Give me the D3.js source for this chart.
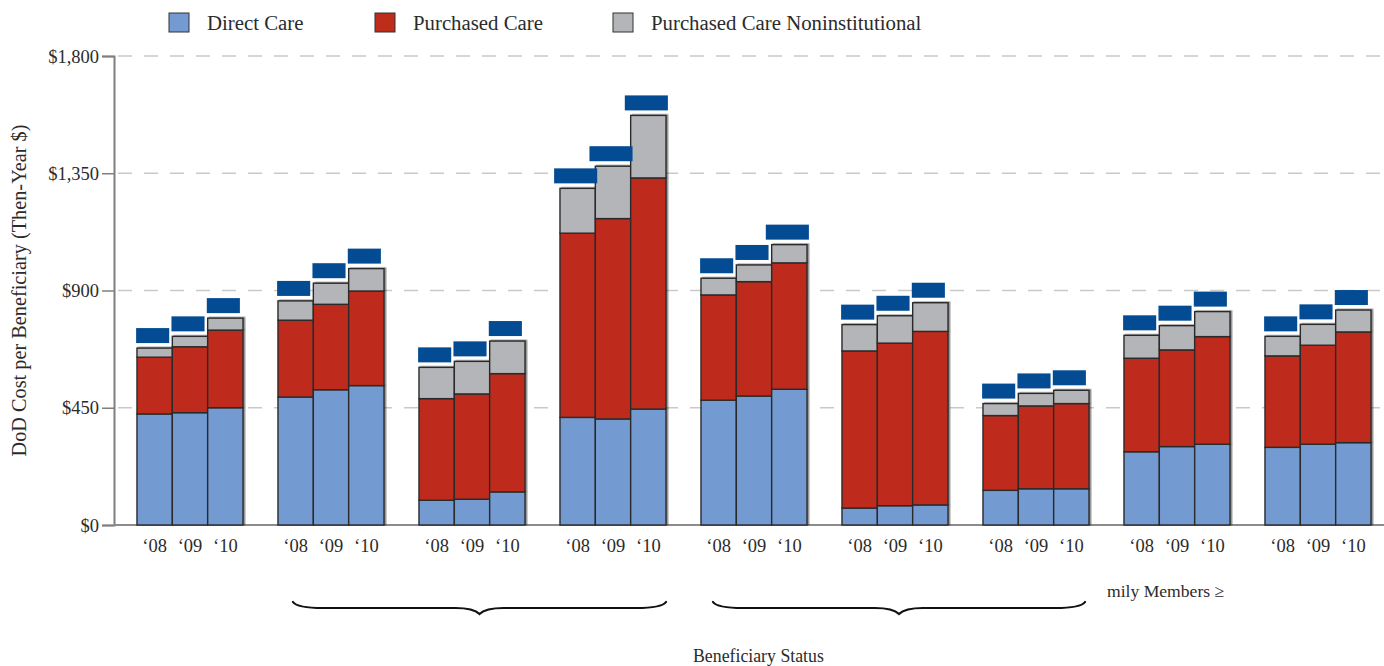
<!DOCTYPE html>
<html>
<head>
<meta charset="utf-8">
<script src="https://cdn.jsdelivr.net/npm/d3@7"></script>
<style>
  body { margin: 0; background: #fff; }
  svg text { font-family: "Liberation Serif", "DejaVu Serif", serif; fill: #2b2b2b; }
</style>
</head>
<body>
<div id="chart"></div>
<script>
var W = 1384, H = 666,
    margin = { top: 56, left: 114, bottom: 141 },
    plotRight = 1394,
    baseY = H - margin.bottom;

// beneficiary groups (names not shown in the picture) and fiscal years
var groups = ["g1", "g2", "g3", "g4", "g5", "g6", "g7", "g8", "g9"];
var years = ["‘08", "‘09", "‘10"];
var yTicks = [0, 450, 900, 1350, 1800];

// cost per beneficiary, group by group, '08 '09 '10
var directCare =    [426, 431, 450,  491, 519, 535,   95,  99, 127,  413, 407, 445,  479, 495, 521,   65,  74,  77,  133, 139, 139,  281, 301, 310,  298, 310, 316];
var purchasedCare = [218, 253, 298,  295, 328, 363,  390, 404, 454,  707, 769, 887,  404, 439, 485,  603, 624, 666,  287, 318, 327,  359, 371, 413,  351, 380, 425];
var noninstCare =   [ 35,  40,  46,   74,  81,  86,  120, 125, 125,  172, 201, 240,   64,  64,  70,  101, 105, 110,   46,  48,  51,   88,  93,  96,   75,  80,  84];

var seriesNames = ["Direct Care", "Purchased Care", "Purchased Care Noninstitutional"];
var colors = ["#739bd1", "#be2c1a", "#b4b5b8"];
var labelBlue = "#034b93";

var rows = [];
groups.forEach(function (g, gi) {
    years.forEach(function (yr, yi) {
        var i = gi * 3 + yi;
        rows.push({ group: g, year: yr, d: directCare[i], p: purchasedCare[i], n: noninstCare[i] });
    });
});

var svg = d3.select("#chart").append("svg")
    .attr("width", W)
    .attr("height", H);

var defs = svg.append("defs");
var f = defs.append("filter").attr("id", "shade")
    .attr("x", "-10%").attr("y", "-10%").attr("width", "130%").attr("height", "120%");
f.append("feDropShadow")
    .attr("dx", 1.6).attr("dy", -0.6).attr("stdDeviation", 0.7)
    .attr("flood-color", "#000").attr("flood-opacity", 0.45);

var x0 = d3.scaleBand()
    .domain(groups)
    .range([margin.left, plotRight])
    .paddingInner(0.248)
    .paddingOuter(0.163);

var x1 = d3.scaleBand()
    .domain(years)
    .range([0, x0.bandwidth()]);

var y = d3.scaleLinear()
    .domain([0, 1800])
    .range([baseY, margin.top]);

// grid
svg.append("g").selectAll("line")
    .data(yTicks.filter(function (d) { return d > 0; }))
    .enter().append("line")
    .attr("x1", margin.left).attr("x2", W)
    .attr("y1", function (d) { return y(d); })
    .attr("y2", function (d) { return y(d); })
    .attr("stroke", "#c9c9c9")
    .attr("stroke-width", 1.4)
    .attr("stroke-dasharray", "14,12")
    .attr("stroke-dashoffset", -4);

// y axis
var yAxis = svg.append("g")
    .attr("transform", "translate(" + margin.left + ",0)")
    .call(d3.axisLeft(y).tickValues(yTicks).tickSize(12).tickPadding(3)
        .tickFormat(function (d) { return "$" + d3.format(",")(d); }));
yAxis.select(".domain").attr("stroke", "#7f7f7f").attr("stroke-width", 2);
yAxis.selectAll(".tick line").attr("stroke", "#7f7f7f").attr("stroke-width", 1.5);
yAxis.selectAll(".tick text").style("font-size", "18.5px").attr("dy", "0.33em");

svg.append("line")
    .attr("x1", margin.left).attr("x2", W)
    .attr("y1", baseY).attr("y2", baseY)
    .attr("stroke", "#8c8c8c").attr("stroke-width", 2);

svg.append("text")
    .attr("transform", "translate(26," + (margin.top + baseY) / 2 + ") rotate(-90)")
    .attr("text-anchor", "middle")
    .style("font-size", "20.3px")
    .text("DoD Cost per Beneficiary (Then-Year $)");

// bars
var bars = svg.append("g").selectAll(".bar")
    .data(rows)
    .enter().append("g")
    .attr("class", "bar")
    .attr("filter", "url(#shade)")
    .attr("transform", function (r) { return "translate(" + (x0(r.group) + x1(r.year)) + ",0)"; });

bars.each(function (r) {
    var g = d3.select(this);
    var segs = [[0, r.d], [r.d, r.d + r.p], [r.d + r.p, r.d + r.p + r.n]];
    segs.forEach(function (s, k) {
        g.append("rect")
            .attr("x", 0)
            .attr("y", y(s[1]))
            .attr("width", x1.bandwidth())
            .attr("height", y(s[0]) - y(s[1]))
            .attr("fill", colors[k])
            .attr("stroke", "#2b2b2b")
            .attr("stroke-width", 1.4);
    });
});

// value labels (blue boxes)
var labels = svg.append("g").selectAll(".vlabel")
    .data(rows)
    .enter().append("g")
    .attr("class", "vlabel");

labels.each(function (r) {
    var g = d3.select(this);
    var total = r.d + r.p + r.n;
    var cx = x0(r.group) + x1(r.year) + x1.bandwidth() / 2 - 2;
    var top = y(total) - 5;
    var t = g.append("text")
        .attr("x", cx)
        .attr("y", top - 3)
        .attr("text-anchor", "middle")
        .style("font-size", "13.3px")
        .text("$" + d3.format(",")(total));
    var w = t.node().getComputedTextLength() + 6.5;
    g.insert("rect", "text")
        .attr("x", cx - w / 2)
        .attr("y", top - 15)
        .attr("width", w)
        .attr("height", 15)
        .attr("fill", labelBlue);
    t.style("fill", labelBlue);
});

// year labels
svg.append("g").selectAll(".yr")
    .data(rows)
    .enter().append("text")
    .attr("x", function (r) { return x0(r.group) + x1(r.year) + x1.bandwidth() / 2; })
    .attr("y", baseY + 27)
    .attr("text-anchor", "middle")
    .style("font-size", "18.5px")
    .text(function (r) { return r.year; });

// braces
function brace(xa, xb, yTop) {
    var m = (xa + xb) / 2, yl = yTop + 6, yt = yTop + 12;
    return "M" + xa + "," + yTop +
        " Q" + (xa + 4) + "," + yl + " " + (xa + 30) + "," + yl +
        " L" + (m - 24) + "," + yl +
        " Q" + (m - 6) + "," + yl + " " + m + "," + yt +
        " Q" + (m + 6) + "," + yl + " " + (m + 24) + "," + yl +
        " L" + (xb - 30) + "," + yl +
        " Q" + (xb - 4) + "," + yl + " " + xb + "," + yTop;
}
var braceSpans = [[groups[1], groups[3], 15, 0], [groups[4], groups[6], 12, -4]];
svg.append("g").selectAll("path")
    .data(braceSpans)
    .enter().append("path")
    .attr("d", function (b) { return brace(x0(b[0]) + b[2], x0(b[1]) + x0.bandwidth() + b[3], 602); })
    .attr("fill", "none")
    .attr("stroke", "#111")
    .attr("stroke-width", 2.2)
    .attr("stroke-linecap", "round");

svg.append("text")
    .attr("x", 1107).attr("y", 597)
    .style("font-size", "17.6px")
    .text("mily Members ≥");

svg.append("text")
    .attr("x", 693).attr("y", 662)
    .style("font-size", "17.8px")
    .text("Beneficiary Status");

// legend
var legendX = [169, 375, 613];
var legend = svg.append("g").selectAll(".legend")
    .data(seriesNames)
    .enter().append("g")
    .attr("class", "legend")
    .attr("transform", function (d, i) { return "translate(" + legendX[i] + ",13)"; });
legend.append("rect")
    .attr("width", 20).attr("height", 19)
    .attr("fill", function (d, i) { return colors[i]; })
    .attr("stroke", "#333").attr("stroke-width", 1);
legend.append("text")
    .attr("x", 38).attr("y", 16.5)
    .style("font-size", "20.8px")
    .text(function (d) { return d; });
</script>
</body>
</html>
